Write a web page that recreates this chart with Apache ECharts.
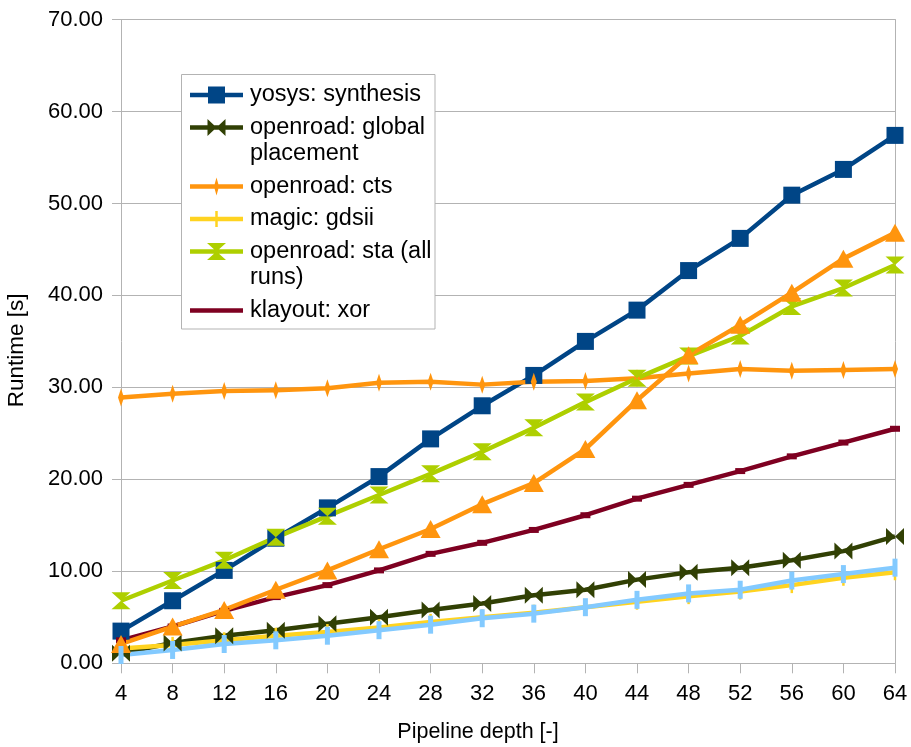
<!DOCTYPE html>
<html>
<head>
<meta charset="utf-8">
<title>Runtime vs pipeline depth</title>
<script src="https://cdn.jsdelivr.net/npm/echarts@6/dist/echarts.min.js"></script>
<style>
  html, body { margin: 0; padding: 0; background: #ffffff; }
  #chart { width: 911px; height: 747px; }
</style>
</head>
<body>
<div id="chart"></div>
<script>
// Pipeline depths on the x axis
const depths = ['4', '8', '12', '16', '20', '24', '28', '32', '36', '40', '44', '48', '52', '56', '60', '64'];

// Y axis range (runtime in seconds)
const yMin = 0;
const yMax = 70;
const yStep = 10;

// Runtime per tool step [s]
const yosysSynthesis = [3.5, 6.8, 10.1, 13.6, 16.9, 20.3, 24.4, 28.0, 31.3, 35.0, 38.4, 42.7, 46.2, 50.9, 53.7, 57.4];
const globalPlacement = [1.1, 2.2, 3.0, 3.6, 4.3, 5.0, 5.8, 6.5, 7.4, 8.0, 9.1, 9.9, 10.4, 11.2, 12.2, 13.8];
const cts = [28.9, 29.3, 29.6, 29.7, 29.9, 30.5, 30.6, 30.3, 30.6, 30.7, 31.0, 31.5, 32.0, 31.8, 31.9, 32.0];
const magicGdsii = [1.6, 2.0, 2.5, 3.0, 3.4, 3.9, 4.5, 5.0, 5.5, 6.1, 6.7, 7.3, 7.8, 8.5, 9.3, 9.9];
const staAllRuns = [6.8, 9.0, 11.2, 13.7, 16.0, 18.3, 20.6, 23.0, 25.6, 28.4, 31.0, 33.4, 35.6, 38.8, 40.8, 43.3];
const klayoutXor = [2.5, 4.0, 5.7, 7.2, 8.5, 10.1, 11.9, 13.1, 14.5, 16.1, 17.9, 19.4, 20.9, 22.5, 24.0, 25.5];
const series7 = [2.1, 4.0, 5.8, 8.0, 10.1, 12.4, 14.6, 17.3, 19.6, 23.3, 28.6, 33.5, 36.8, 40.3, 44.0, 46.8];
const series8 = [0.9, 1.45, 2.1, 2.5, 3.0, 3.6, 4.2, 4.9, 5.4, 6.1, 6.9, 7.6, 8.0, 9.0, 9.7, 10.4];

// ---- styling ----
const GRAY = '#b3b3b3';
const FONT = 'Liberation Sans';
const LINE_W = 4.5;

const C = {
  blue: '#004586',
  olive: '#314004',
  orange: '#ff950e',
  yellow: '#ffd320',
  lime: '#aecf00',
  wine: '#7e0021',
  sky: '#83caff'
};

// Marker shapes
const SYM_BOWTIE = 'path://M0,0L9,8.5L0,17Z M18,0L18,17L9,8.5Z';
const SYM_HOURGLASS = 'path://M0,0H19L9.5,8.5Z M19,17H0L9.5,8.5Z';
const SYM_SPINDLE = 'path://M3,0L6,9L3,18L0,9Z';

function lineSeries(name, values, color, symbol, symbolSize) {
  return {
    name: name,
    type: 'line',
    data: values,
    color: color,
    symbol: symbol,
    symbolSize: symbolSize,
    showSymbol: true,
    showAllSymbol: true,
    lineStyle: { color: color, width: LINE_W, join: 'round' },
    itemStyle: { color: color, borderWidth: 0 },
    emphasis: { disabled: true },
    z: 2
  };
}

// ---- legend: icon = line + marker drawn in a box of ICON_W x rowHeight*lines ----
const ICON_W = 55;
const LINE_END = 53;
const ROW_H = 26.5;
const CY = ROW_H / 2;
const CX = LINE_END / 2;

function legendIcon(markerPath, lines) {
  const h = ROW_H * lines;
  const corners = 'M0,0L0.01,0L0,0.01Z M' + ICON_W + ',' + h + 'L' + (ICON_W - 0.01) + ',' + h + 'L' + ICON_W + ',' + (h - 0.01) + 'Z ';
  const y0 = CY - LINE_W / 2, y1 = CY + LINE_W / 2;
  const line = 'M0,' + y0 + 'H' + LINE_END + 'V' + y1 + 'H0Z ';
  return 'path://' + corners + line + (markerPath || '');
}

function box(x0, y0, x1, y1) {
  return 'M' + x0 + ',' + y0 + 'H' + x1 + 'V' + y1 + 'H' + x0 + 'Z';
}

const legendMarkers = {
  square: box(CX - 8.5, CY - 8.5, CX + 8.5, CY + 8.5),
  bowtie: 'M' + (CX - 9) + ',' + (CY - 8.5) + 'L' + CX + ',' + CY + 'L' + (CX - 9) + ',' + (CY + 8.5) + 'Z ' +
          'M' + (CX + 9) + ',' + (CY - 8.5) + 'L' + (CX + 9) + ',' + (CY + 8.5) + 'L' + CX + ',' + CY + 'Z',
  spindle: 'M' + CX + ',' + (CY - 9) + 'L' + (CX + 2.5) + ',' + CY + 'L' + CX + ',' + (CY + 9) + 'L' + (CX - 2.5) + ',' + CY + 'Z',
  bar: box(CX - 1.25, CY - 8, CX + 1.25, CY + 8),
  hourglass: 'M' + (CX - 9.5) + ',' + (CY - 8.5) + 'H' + (CX + 9.5) + 'L' + CX + ',' + CY + 'Z ' +
             'M' + (CX + 9.5) + ',' + (CY + 8.5) + 'H' + (CX - 9.5) + 'L' + CX + ',' + CY + 'Z',
  none: ''
};

const legendEntries = [
  { name: 'yosys: synthesis', text: 'yosys: synthesis', color: C.blue, marker: 'square', lines: 1 },
  { name: 'openroad: global placement', text: 'openroad: global\nplacement', color: C.olive, marker: 'bowtie', lines: 2 },
  { name: 'openroad: cts', text: 'openroad: cts', color: C.orange, marker: 'spindle', lines: 1 },
  { name: 'magic: gdsii', text: 'magic: gdsii', color: C.yellow, marker: 'bar', lines: 1 },
  { name: 'openroad: sta (all runs)', text: 'openroad: sta (all\nruns)', color: C.lime, marker: 'hourglass', lines: 2 },
  { name: 'klayout: xor', text: 'klayout: xor', color: C.wine, marker: 'none', lines: 1 }
];

const LEGEND_LEFT = 190;
const LEGEND_TOP = 81.75;
const LEGEND_GAP = 6;

const legends = [];
let legendY = LEGEND_TOP;
legendEntries.forEach(function (e) {
  const h = ROW_H * e.lines;
  legends.push({
    show: true,
    orient: 'vertical',
    left: LEGEND_LEFT,
    top: legendY,
    padding: 0,
    itemGap: 0,
    itemWidth: ICON_W,
    itemHeight: h,
    selectedMode: false,
    symbolKeepAspect: true,
    z: 10,
    data: [{
      name: e.name,
      icon: legendIcon(legendMarkers[e.marker], e.lines),
      itemStyle: { color: e.color, borderWidth: 0 }
    }],
    formatter: function () { return e.text; },
    textStyle: { color: '#000', fontFamily: FONT, fontSize: 23.5, lineHeight: ROW_H }
  });
  legendY += h + LEGEND_GAP;
});

const chart = echarts.init(document.getElementById('chart'), null, { renderer: 'canvas' });

const option = {
  animation: false,
  backgroundColor: '#ffffff',
  textStyle: { fontFamily: FONT },
  grid: { left: 121, right: 16, top: 19.5, bottom: 83.7, containLabel: false, outerBoundsMode: 'none' },
  legend: legends,
  graphic: {
    elements: [{
      type: 'rect',
      z: 9,
      silent: true,
      shape: { x: 181.5, y: 74.5, width: 253.5, height: 254.5 },
      style: { fill: '#ffffff', stroke: GRAY, lineWidth: 1 }
    }]
  },
  xAxis: {
    type: 'category',
    data: depths,
    boundaryGap: false,
    axisLine: { show: true, lineStyle: { color: GRAY, width: 1 } },
    axisTick: { show: true, interval: 0, length: 10, lineStyle: { color: GRAY } },
    axisLabel: { interval: 0, margin: 20, color: '#000', fontSize: 22, fontFamily: FONT },
    splitLine: { show: false },
    name: 'Pipeline depth [-]',
    nameLocation: 'middle',
    nameGap: 58,
    nameTextStyle: { color: '#000', fontSize: 21.5, fontFamily: FONT, padding: [0, 60, 0, 0] }
  },
  yAxis: [{
    type: 'value',
    min: yMin,
    max: yMax,
    interval: yStep,
    axisLine: { show: true, lineStyle: { color: GRAY, width: 1 } },
    axisTick: { show: true, length: 9, lineStyle: { color: GRAY } },
    axisLabel: { margin: 18, color: '#000', fontSize: 22, fontFamily: FONT, formatter: function (v) { return v.toFixed(2); } },
    splitLine: { show: true, lineStyle: { color: GRAY, width: 1 } },
    name: 'Runtime [s]',
    nameLocation: 'middle',
    nameRotate: 90,
    nameGap: 93,
    nameTextStyle: { color: '#000', fontSize: 22.5, fontFamily: FONT, padding: [0, 18, 0, 0] }
  }, {
    type: 'value',
    min: yMin,
    max: yMax,
    interval: yStep,
    position: 'right',
    axisLine: { show: true, lineStyle: { color: GRAY, width: 1 } },
    axisTick: { show: false },
    axisLabel: { show: false },
    splitLine: { show: false }
  }],
  series: [
    lineSeries('yosys: synthesis', yosysSynthesis, C.blue, 'rect', 17),
    lineSeries('openroad: global placement', globalPlacement, C.olive, SYM_BOWTIE, [18, 17]),
    lineSeries('openroad: cts', cts, C.orange, SYM_SPINDLE, [6, 18]),
    lineSeries('magic: gdsii', magicGdsii, C.yellow, 'rect', [2.5, 16]),
    lineSeries('openroad: sta (all runs)', staAllRuns, C.lime, SYM_HOURGLASS, [19, 17]),
    lineSeries('klayout: xor', klayoutXor, C.wine, 'rect', [10, 6]),
    lineSeries('series 7', series7, C.orange, 'triangle', [20, 18]),
    lineSeries('series 8', series8, C.sky, 'rect', [5, 18])
  ]
};

chart.setOption(option);
</script>
</body>
</html>
